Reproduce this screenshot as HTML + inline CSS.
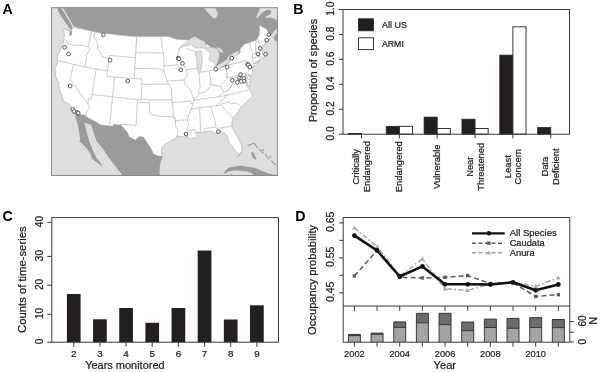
<!DOCTYPE html>
<html><head><meta charset="utf-8"><style>
html,body{margin:0;padding:0;background:#fff;width:600px;height:372px;overflow:hidden}
svg{display:block;font-family:"Liberation Sans",sans-serif;filter:blur(0.3px)}
</style></head><body>
<svg width="600" height="372" viewBox="0 0 600 372">
<clipPath id="mc"><rect x="51.5" y="7.7" width="225.89999999999998" height="167.8"/></clipPath>
<rect x="51.5" y="7.7" width="225.89999999999998" height="167.8" fill="#dedede"/>
<g clip-path="url(#mc)">
<path d="M62.0,0.0 L62.3,7.0 L66.0,13.0 L70.0,20.0 L73.6,26.3 L98.5,32.7 L133.4,36.6 L168.1,36.5 L168.0,34.4 L168.1,36.5 L172.9,38.1 L177.6,39.4 L188.4,39.9 L197.6,41.3 L205.2,43.2 L207.8,44.9 L211.3,47.5 L215.8,49.9 L217.7,62.1 L215.5,66.3 L218.3,69.0 L225.8,65.8 L230.9,59.9 L230.1,57.6 L240.1,53.2 L240.1,49.3 L244.3,44.2 L256.2,40.3 L257.2,38.2 L259.2,35.2 L259.5,31.1 L259.4,25.3 L261.5,26.4 L263.5,27.6 L266.3,29.0 L267.6,31.5 L269.6,33.8 L271.2,34.6 L272.6,33.4 L274.8,30.6 L277.5,27.8 L285.0,27.0 L285.0,45.0 L275.5,40.8 L273.4,38.2 L275.0,35.4 L277.2,32.6 L285.0,31.0 L285.0,21.0 L277.6,21.0 L276.0,19.8 L273.5,18.2 L270.3,17.4 L266.0,18.0 L265.6,16.8 L268.5,15.2 L270.8,13.2 L271.3,11.0 L269.8,9.8 L267.0,9.9 L264.0,11.3 L261.5,13.3 L259.5,15.6 L257.5,18.3 L256.2,17.8 L257.2,15.0 L258.8,11.5 L259.6,9.0 L259.6,-5.0 L62.0,-5.0Z" fill="#9b9b9b"/>
<path d="M204.5,5.0 L214.5,5.0 L216.3,10.5 L217.9,14.5 L216.2,17.4 L214.8,18.6 L212.6,17.4 L209.8,14.5 L206.6,11.2 L204.5,8.6Z" fill="#dedede"/>
<path d="M57.5,0.0 L60.6,0.0 L60.8,7.7 L64.5,13.0 L68.5,20.0 L72.1,26.3 L72.6,29.2 L70.6,29.8 L66.2,23.8 L61.3,16.6 L57.9,10.5Z" fill="#9b9b9b"/>
<path d="M71.8,27.0 L72.4,28.5 L71.6,30.1 L71.8,31.3 L71.4,34.3 L69.2,36.4 L70.5,33.6 L70.7,31.5 L68.4,30.9 L66.5,29.9 L64.3,28.3 L63.9,30.7 L64.3,33.8 L64.4,36.2 L63.8,39.4 L63.1,43.3 L61.5,47.6 L58.8,53.5 L57.3,56.0 L57.5,60.4 L57.3,62.9 L56.3,65.8 L54.7,67.8 L56.0,71.6 L55.4,75.8 L57.2,79.8 L58.8,82.8 L58.5,85.9 L59.8,87.5 L59.7,89.3 L60.7,92.7 L62.2,95.7 L63.0,98.7 L63.2,101.4 L66.3,102.4 L69.7,105.0 L71.1,106.9 L73.8,109.0 L75.2,112.1 L75.4,114.1 L85.8,115.3 L85.3,116.3 L100.7,124.9 L113.2,126.6 L113.4,124.4 L120.8,125.2 L125.0,129.6 L127.5,132.8 L129.1,137.0 L134.4,139.6 L135.2,140.6 L137.1,138.6 L139.0,136.7 L143.0,136.9 L145.0,139.5 L147.0,142.6 L150.1,147.2 L151.5,149.7 L153.3,153.8 L157.1,155.8 L162.5,156.6 L161.7,153.9 L161.4,149.4 L162.5,147.1 L164.7,144.4 L169.2,142.0 L172.8,139.7 L177.0,137.5 L177.1,136.0 L181.0,136.5 L184.8,137.0 L187.0,136.2 L188.5,137.6 L190.2,139.0 L192.5,138.4 L194.9,137.3 L197.4,138.8 L198.6,137.6 L197.0,135.6 L196.3,133.6 L196.9,132.2 L201.1,132.3 L203.0,132.6 L205.2,132.1 L209.6,131.0 L213.8,132.0 L215.4,133.8 L219.3,132.2 L220.9,131.1 L223.9,133.0 L227.3,135.6 L228.2,139.6 L228.8,142.1 L231.0,145.3 L233.0,147.6 L234.9,150.3 L238.1,153.4 L239.1,153.6 L240.7,153.1 L241.4,151.9 L242.1,149.5 L241.7,144.8 L239.7,141.0 L237.5,136.8 L235.0,133.0 L232.3,127.8 L231.7,125.8 L232.1,121.4 L233.2,118.3 L236.7,113.8 L240.1,108.4 L241.4,106.7 L244.2,104.1 L248.3,100.3 L252.6,96.4 L251.2,92.4 L249.7,89.8 L248.7,87.8 L249.7,84.5 L250.8,78.9 L250.2,77.1 L248.6,75.4 L247.8,73.9 L250.0,75.0 L250.8,76.1 L252.6,72.5 L252.9,69.0 L252.5,66.9 L252.8,66.3 L256.2,64.9 L258.5,62.4 L260.1,61.3 L257.3,62.7 L254.3,63.8 L253.1,63.9 L255.8,61.6 L259.8,60.0 L262.1,58.4 L263.0,57.8 L264.2,57.1 L266.4,55.7 L265.6,53.7 L264.3,55.6 L261.6,53.4 L262.7,51.3 L261.7,50.5 L261.7,49.1 L262.8,45.6 L265.1,43.4 L267.0,40.3 L269.8,38.6 L272.1,36.6 L271.2,34.6 L269.6,33.8 L267.6,31.5 L266.3,29.0 L263.5,27.6 L261.5,26.4 L259.4,25.3 L259.5,31.1 L259.2,35.2 L257.2,38.2 L256.2,40.3 L244.3,44.2 L240.1,49.3 L240.1,53.2 L230.1,57.6 L230.9,59.9 L225.8,65.8 L218.3,69.0 L215.5,66.3 L217.7,62.1 L215.8,49.9 L211.3,47.5 L207.8,44.9 L205.2,43.2 L197.6,41.3 L188.4,39.9 L177.6,39.4 L172.9,38.1 L168.1,36.5 L168.0,34.4 L168.1,36.5 L133.4,36.6 L98.5,32.7 L71.8,27.0Z" fill="#fff" stroke="#a8a8a8" stroke-width="0.6"/>
<path d="M75.4,114.1 L85.8,115.3 L85.3,116.3 L100.7,124.9 L113.2,126.6 L113.4,124.4 L120.8,125.2 L125.0,129.6 L127.5,132.8 L129.1,137.0 L134.4,139.6 L135.2,140.6 L137.1,138.6 L139.0,136.7 L143.0,136.9 L145.0,139.5 L147.0,142.6 L150.1,147.2 L151.5,149.7 L153.3,153.8 L157.1,155.8 L162.5,156.6 L160.9,161.3 L159.8,166.2 L159.5,173.5 L161.7,178.4 L163.8,183.3 L169.0,190.5 L179.3,195.1 L180.4,213.8 L121.0,185.0 L121.5,173.9 L114.4,165.0 L109.0,157.9 L103.7,149.9 L96.6,141.0 L93.1,131.3 L91.3,125.1 L84.2,122.4 L85.1,125.1 L86.9,133.1 L89.5,141.9 L93.1,150.8 L96.6,157.9 L101.0,163.2 L103.7,169.4 L101.9,165.9 L96.6,162.3 L92.2,158.8 L90.4,153.5 L85.1,146.4 L80.8,142.6 L79.3,141.5 L80.2,139.5 L79.8,136.6 L78.0,126.0 L75.3,116.2Z" fill="#9b9b9b"/>
<path d="M70.3,31.2 L72.0,31.5 L71.7,34.8 L70.0,35.6 L69.6,33.2Z" fill="#9b9b9b"/>
<path d="M178.4,49.4 L182.3,46.9 L187.1,45.3 L189.5,45.6 L190.2,43.3 L191.5,44.5 L193.1,46.9 L196.2,48.1 L200.0,48.0 L204.0,48.1 L205.9,48.8 L206.2,46.0 L205.2,42.1 L202.0,40.2 L199.2,39.1 L196.5,37.3 L194.3,36.5 L190.7,38.3 L186.5,42.0 L182.3,45.0Z" fill="#dedede" stroke="#a8a8a8" stroke-width="0.5"/>
<path d="M196.6,51.3 L199.0,50.9 L201.2,50.6 L201.8,54.2 L202.3,58.0 L202.2,61.4 L201.6,66.0 L201.0,69.9 L199.4,72.4 L197.8,70.8 L197.2,68.5 L196.9,64.0 L196.8,60.2 L196.5,56.0 L195.2,55.6 L194.8,53.8 L196.0,52.6Z" fill="#dedede" stroke="#a8a8a8" stroke-width="0.5"/>
<path d="M206.0,48.0 L210.0,47.6 L214.0,47.6 L217.0,49.0 L219.0,52.0 L219.3,56.0 L218.6,60.0 L216.7,64.0 L215.3,66.4 L214.5,63.8 L213.0,61.6 L210.5,61.2 L209.0,59.6 L209.3,57.0 L210.3,54.0 L208.3,51.0 L206.0,49.6Z" fill="#dedede" stroke="#a8a8a8" stroke-width="0.5"/>
<path d="M216.8,47.3 L219.5,47.8 L222.0,49.6 L223.4,52.2 L221.8,53.0 L219.3,51.2 L217.5,49.5Z" fill="#dedede" stroke="#a8a8a8" stroke-width="0.5"/>
<path d="M213.8,69.2 L215.5,66.9 L218.7,64.6 L222.0,62.4 L225.6,60.2 L228.8,58.6 L230.8,60.0 L227.5,63.3 L224.0,65.6 L220.0,68.2 L217.0,70.0 L214.8,70.8Z" fill="#dedede" stroke="#a8a8a8" stroke-width="0.5"/>
<path d="M226.6,58.2 L229.0,56.0 L232.0,54.0 L235.0,52.2 L237.9,50.9 L239.5,52.3 L236.8,55.0 L233.8,57.0 L230.7,59.0 L228.3,60.0Z" fill="#dedede" stroke="#a8a8a8" stroke-width="0.5"/>
<path d="M223.1,173.4 L225.5,170.8 L228.0,168.0 L234.0,166.4 L241.0,165.8 L247.5,166.7 L254.0,167.5 L260.5,170.2 L267.0,172.9 L273.5,174.5 L280.0,175.5 L280.0,180.0 L253.5,180.0 L253.5,175.2 L251.8,172.9 L246.4,171.3 L240.0,170.7 L234.5,170.2 L229.1,171.3 L225.8,173.2Z" fill="#9b9b9b"/>
<path d="M230.0,175.6 L231.2,173.6 L232.6,175.6Z" fill="#9b9b9b"/>
<path d="M251.3,152.5 L253.2,151.8 L254.5,155.0 L256.5,158.6 L255.8,160.0 L253.2,158.0 L251.5,155.5Z" fill="#9b9b9b"/>
<path d="M241.3,152.7 L240.6,154.2 L238.9,155.5 L236.7,156.5" fill="none" stroke="#a8a8a8" stroke-width="0.8"/>
<path d="M247.9,145.7 L251,144.2 L254.1,143.1 L255.5,144.8 L256.9,147.4 M259.2,149.1 L261,150.8 L263.1,153 M265.4,154.2 L267,156.5 L268.7,158.7 M271.6,160.9 L273.5,162.8 L275.5,164.9 M262.5,149.5 L263.5,150.5 M269.8,156.2 L270.8,157.2" fill="none" stroke="#9b9b9b" stroke-width="1.1" stroke-linecap="round"/>
<path d="M248.2,87.4 L246.9,86.4 L246.3,82.7 L244.7,78.1 L245.7,74.5 L246.0,75.0 L246.1,79.4 L247.3,82.4 L248.2,86.6Z" fill="#eee" stroke="#a8a8a8" stroke-width="0.6"/>
<path d="M63.9,39.5 L66.6,40.6 L68.8,44.3 L73.1,45.1 L80.3,45.3 L81.5,45.2 L88.9,46.8 L88.9,44.5 L91.4,31.4 M57.5,60.4 L84.6,67.0 L107.5,70.9 M88.9,46.8 L90.0,49.1 L88.4,51.9 L86.2,55.2 L86.4,57.9 L84.6,67.0 M94.8,32.1 L93.9,37.3 L96.0,40.7 L97.8,45.0 L97.4,49.9 L99.5,51.0 L102.3,57.0 L109.1,58.2 L109.5,55.4 M109.1,58.2 L106.8,76.0 L114.6,77.0 M109.5,55.4 L135.4,57.7 M136.7,36.7 L134.2,78.7 L142.0,79.1 L141.9,84.3 M114.6,77.0 L134.2,78.7 M114.6,77.0 L112.5,97.6 L109.5,126.2 M141.9,84.3 L141.3,99.9 M92.0,94.5 L137.4,99.7 L137.3,102.3 L136.1,125.4 L120.5,124.1 L120.8,125.2 M134.8,68.2 L156.0,68.7 L161.0,69.6 L163.9,71.1 M141.9,84.3 L168.7,84.2 L171.7,88.8 L172.0,99.8 M137.4,99.7 L172.0,99.8 M137.3,102.3 L149.7,102.8 L149.6,112.8 L153.0,115.2 L160.3,116.3 L164.6,117.0 L168.8,116.4 L173.3,117.3 L175.2,117.7 L175.6,125.9 L178.0,130.8 L177.0,137.5 M173.3,117.3 L173.1,108.2 L172.1,102.5 L172.0,99.8 M73.4,64.5 L70.0,79.5 L88.0,104.1 M96.0,69.1 L92.0,94.5 L91.3,99.0 L88.4,98.5 L88.0,104.1 L89.5,107.9 L86.5,111.9 L85.8,115.3 M135.7,52.8 L163.3,52.9 M160.9,36.8 L161.6,42.6 L162.4,49.5 L163.3,52.9 L163.7,56.3 L163.9,65.8 L163.9,71.1 L165.8,76.4 L166.9,81.1 L168.7,84.2 M163.9,65.8 L183.8,64.5 M179.5,47.8 L179.0,51.6 L177.5,54.9 L177.6,58.7 L180.9,60.5 L183.8,64.5 L186.3,69.6 L187.3,74.9 L184.1,80.0 L184.8,84.7 L189.9,89.0 L193.1,97.2 L194.7,98.2 L192.8,103.6 L191.5,109.0 L188.5,114.5 L187.8,119.8 L188.4,124.9 L186.6,130.2 M166.9,81.1 L184.1,80.0 M172.1,102.5 L190.7,101.1 L190.9,103.7 L192.8,103.6 M175.3,120.6 L187.8,119.8 M186.6,130.2 L194.9,129.5 L195.8,133.6 M199.6,108.1 L200.6,129.0 L201.1,132.0 M190.7,109.0 L216.1,105.7 L221.1,104.8 M210.6,106.6 L214.9,120.2 L215.8,127.0 M204.3,128.5 L215.8,127.0 L216.5,128.4 L229.4,126.7 L231.7,125.8 M204.3,128.5 L205.2,132.1 M221.1,104.8 L223.4,108.1 L227.5,112.2 L233.2,118.3 M221.0,103.8 L229.8,102.0 L231.0,103.9 L235.6,102.9 L241.4,106.7 M225.9,95.3 L224.8,98.2 L219.0,102.5 L216.1,105.7 M249.7,89.8 L225.9,95.5 L217.5,96.9 L193.4,100.3 M217.5,96.9 L223.8,91.9 L220.5,86.6 M226.9,73.0 L226.3,78.8 L222.5,83.4 L220.5,86.6 L216.2,85.7 L211.1,84.5 L207.7,89.9 L205.0,91.9 L199.4,93.2 L197.3,97.2 L194.7,98.2 M198.8,72.4 L200.2,86.7 L198.7,90.6 L198.7,93.3 M198.9,72.4 L214.6,69.8 M209.3,70.7 L211.1,84.5 M186.3,69.6 L197.3,68.3 M196.7,54.3 L194.5,50.9 L190.7,50.3 L185.7,48.0 M225.7,65.8 L227.7,77.8 M227.7,77.8 L246.4,73.1 M231.9,76.9 L232.3,79.6 L236.7,76.9 L239.3,77.4 L242.3,78.8 L246.3,82.7 M239.3,77.4 L232.9,83.3 L228.3,90.4 L223.8,91.9 M228.4,63.7 L228.6,65.1 L245.5,60.6 L248.8,63.3 L247.7,67.8 L248.8,70.8 L247.5,72.3 M248.8,63.3 L252.3,64.2 M249.4,42.6 L252.6,54.2 L252.5,58.2 L253.1,63.4 M256.2,40.3 L255.5,46.2 L255.7,53.3 M252.6,54.3 L260.0,51.9 L261.7,50.5 M257.2,38.2 L261.7,49.1 M252.6,58.3 L259.0,56.2 L259.8,60.0 M259.0,56.2 L260.7,55.8 L262.4,58.0 M246.4,73.1 L247.9,79.7 L250.8,78.9 M247.9,82.2 L250.8,81.4" fill="none" stroke="#a8a8a8" stroke-width="0.6"/>
<circle cx="103.4" cy="34.7" r="1.85" fill="#fff" stroke="#5a5a5a" stroke-width="1.0"/>
<circle cx="64.6" cy="47.3" r="1.85" fill="#fff" stroke="#5a5a5a" stroke-width="1.0"/>
<circle cx="68.6" cy="54.0" r="1.85" fill="#fff" stroke="#5a5a5a" stroke-width="1.0"/>
<circle cx="110.1" cy="60.2" r="1.85" fill="#fff" stroke="#5a5a5a" stroke-width="1.0"/>
<circle cx="127.7" cy="81.0" r="1.85" fill="#fff" stroke="#5a5a5a" stroke-width="1.0"/>
<circle cx="70.2" cy="86.0" r="1.85" fill="#fff" stroke="#5a5a5a" stroke-width="1.0"/>
<circle cx="72.8" cy="109.4" r="1.85" fill="#fff" stroke="#5a5a5a" stroke-width="1.0"/>
<circle cx="74.2" cy="111.4" r="1.85" fill="#fff" stroke="#5a5a5a" stroke-width="1.0"/>
<circle cx="77.2" cy="112.5" r="1.85" fill="#fff" stroke="#5a5a5a" stroke-width="1.0"/>
<circle cx="78.2" cy="113.1" r="1.85" fill="#fff" stroke="#5a5a5a" stroke-width="1.0"/>
<circle cx="178.2" cy="58.2" r="1.85" fill="#fff" stroke="#5a5a5a" stroke-width="1.0"/>
<circle cx="178.9" cy="58.8" r="1.85" fill="#fff" stroke="#5a5a5a" stroke-width="1.0"/>
<circle cx="182.5" cy="63.4" r="1.85" fill="#fff" stroke="#5a5a5a" stroke-width="1.0"/>
<circle cx="180.8" cy="69.8" r="1.85" fill="#fff" stroke="#5a5a5a" stroke-width="1.0"/>
<circle cx="186.0" cy="134.0" r="1.85" fill="#fff" stroke="#5a5a5a" stroke-width="1.0"/>
<circle cx="218.3" cy="131.6" r="1.85" fill="#fff" stroke="#5a5a5a" stroke-width="1.0"/>
<circle cx="215.7" cy="69.2" r="1.85" fill="#fff" stroke="#5a5a5a" stroke-width="1.0"/>
<circle cx="231.7" cy="58.1" r="1.85" fill="#fff" stroke="#5a5a5a" stroke-width="1.0"/>
<circle cx="227.2" cy="67.2" r="1.85" fill="#fff" stroke="#5a5a5a" stroke-width="1.0"/>
<circle cx="247.6" cy="64.3" r="1.85" fill="#fff" stroke="#5a5a5a" stroke-width="1.0"/>
<circle cx="248.3" cy="64.9" r="1.85" fill="#fff" stroke="#5a5a5a" stroke-width="1.0"/>
<circle cx="249.9" cy="67.0" r="1.85" fill="#fff" stroke="#5a5a5a" stroke-width="1.0"/>
<circle cx="240.6" cy="74.5" r="1.85" fill="#fff" stroke="#5a5a5a" stroke-width="1.0"/>
<circle cx="232.3" cy="80.3" r="1.85" fill="#fff" stroke="#5a5a5a" stroke-width="1.0"/>
<circle cx="237.4" cy="82.3" r="1.85" fill="#fff" stroke="#5a5a5a" stroke-width="1.0"/>
<circle cx="239.5" cy="78.2" r="1.85" fill="#fff" stroke="#5a5a5a" stroke-width="1.0"/>
<circle cx="241.7" cy="78.8" r="1.85" fill="#fff" stroke="#5a5a5a" stroke-width="1.0"/>
<circle cx="243.8" cy="78.5" r="1.85" fill="#fff" stroke="#5a5a5a" stroke-width="1.0"/>
<circle cx="244.1" cy="81.2" r="1.85" fill="#fff" stroke="#5a5a5a" stroke-width="1.0"/>
<circle cx="241.1" cy="81.4" r="1.85" fill="#fff" stroke="#5a5a5a" stroke-width="1.0"/>
<circle cx="268.8" cy="34.7" r="1.85" fill="#fff" stroke="#5a5a5a" stroke-width="1.0"/>
<circle cx="266.7" cy="40.1" r="1.85" fill="#fff" stroke="#5a5a5a" stroke-width="1.0"/>
<circle cx="260.2" cy="48.4" r="1.85" fill="#fff" stroke="#5a5a5a" stroke-width="1.0"/>
<circle cx="258.1" cy="54.0" r="1.85" fill="#fff" stroke="#5a5a5a" stroke-width="1.0"/>
<circle cx="265.6" cy="54.2" r="1.85" fill="#fff" stroke="#5a5a5a" stroke-width="1.0"/>
</g>
<rect x="51.5" y="7.7" width="225.89999999999998" height="167.8" fill="none" stroke="#8a8a8a" stroke-width="1"/>
<text x="2.6" y="14.3" font-size="14.2" fill="#000" font-weight="bold">A</text>
<text x="293.2" y="14.3" font-size="14.2" fill="#000" font-weight="bold">B</text>
<text x="2.6" y="220.6" font-size="14.2" fill="#000" font-weight="bold">C</text>
<text x="295.3" y="220.8" font-size="14.2" fill="#000" font-weight="bold">D</text>
<rect x="348.40" y="133.45" width="13.1" height="0.75" fill="#231f20" stroke="#231f20" stroke-width="0.8"/>
<rect x="386.25" y="126.34" width="13.1" height="7.86" fill="#231f20" stroke="#231f20" stroke-width="0.8"/>
<rect x="399.35" y="126.34" width="13.1" height="7.86" fill="#fff" stroke="#231f20" stroke-width="0.9"/>
<rect x="424.10" y="117.12" width="13.1" height="17.08" fill="#231f20" stroke="#231f20" stroke-width="0.8"/>
<rect x="437.20" y="128.46" width="13.1" height="5.74" fill="#fff" stroke="#231f20" stroke-width="0.9"/>
<rect x="461.95" y="119.24" width="13.1" height="14.96" fill="#231f20" stroke="#231f20" stroke-width="0.8"/>
<rect x="475.05" y="128.46" width="13.1" height="5.74" fill="#fff" stroke="#231f20" stroke-width="0.9"/>
<rect x="499.80" y="55.14" width="13.1" height="79.06" fill="#231f20" stroke="#231f20" stroke-width="0.8"/>
<rect x="512.90" y="26.83" width="13.1" height="107.37" fill="#fff" stroke="#231f20" stroke-width="0.9"/>
<rect x="537.65" y="127.59" width="13.1" height="6.61" fill="#231f20" stroke="#231f20" stroke-width="0.8"/>
<rect x="343.0" y="9.5" width="226.5" height="124.69999999999999" fill="none" stroke="#3a3a3a" stroke-width="1"/>
<path d="M343.0,134.20H339.0M343.0,109.26H339.0M343.0,84.32H339.0M343.0,59.38H339.0M343.0,34.44H339.0M343.0,9.50H339.0M361.50,134.2V138.39999999999998M399.35,134.2V138.39999999999998M437.20,134.2V138.39999999999998M475.05,134.2V138.39999999999998M512.90,134.2V138.39999999999998M550.75,134.2V138.39999999999998" stroke="#3a3a3a" stroke-width="1" fill="none"/>
<text x="333.6" y="133.4" font-size="10.2" fill="#1a1a1a" stroke="#1a1a1a" stroke-width="0.22" text-anchor="middle" transform="rotate(-90 333.6 133.4)">0.0</text>
<text x="333.6" y="108.46" font-size="10.2" fill="#1a1a1a" stroke="#1a1a1a" stroke-width="0.22" text-anchor="middle" transform="rotate(-90 333.6 108.46)">0.2</text>
<text x="333.6" y="83.52" font-size="10.2" fill="#1a1a1a" stroke="#1a1a1a" stroke-width="0.22" text-anchor="middle" transform="rotate(-90 333.6 83.52)">0.4</text>
<text x="333.6" y="58.58" font-size="10.2" fill="#1a1a1a" stroke="#1a1a1a" stroke-width="0.22" text-anchor="middle" transform="rotate(-90 333.6 58.58)">0.6</text>
<text x="333.6" y="33.64" font-size="10.2" fill="#1a1a1a" stroke="#1a1a1a" stroke-width="0.22" text-anchor="middle" transform="rotate(-90 333.6 33.64)">0.8</text>
<text x="333.6" y="8.7" font-size="10.2" fill="#1a1a1a" stroke="#1a1a1a" stroke-width="0.22" text-anchor="middle" transform="rotate(-90 333.6 8.7)">1.0</text>
<text x="316.7" y="70.5" font-size="10.8" fill="#1a1a1a" stroke="#1a1a1a" stroke-width="0.22" text-anchor="middle" transform="rotate(-90 316.7 70.5)" textLength="103.5" lengthAdjust="spacingAndGlyphs">Proportion of species</text>
<rect x="358.5" y="18.8" width="15" height="12" fill="#231f20" stroke="#231f20" stroke-width="0.8"/>
<rect x="358.5" y="37.8" width="15" height="11.8" fill="#fff" stroke="#231f20" stroke-width="0.9"/>
<text x="382.0" y="27.8" font-size="9" fill="#1a1a1a" stroke="#1a1a1a" stroke-width="0.22" textLength="25" lengthAdjust="spacingAndGlyphs">All US</text>
<text x="382.0" y="46.7" font-size="9" fill="#1a1a1a" stroke="#1a1a1a" stroke-width="0.22" textLength="21.8" lengthAdjust="spacingAndGlyphs">ARMI</text>
<text x="359.2" y="166.7" font-size="9.4" fill="#1a1a1a" stroke="#1a1a1a" stroke-width="0.22" text-anchor="middle" transform="rotate(-90 359.2 166.7)">Critically</text>
<text x="370.0" y="166.7" font-size="9.4" fill="#1a1a1a" stroke="#1a1a1a" stroke-width="0.22" text-anchor="middle" transform="rotate(-90 370.0 166.7)">Endangered</text>
<text x="402.35" y="166.7" font-size="9.4" fill="#1a1a1a" stroke="#1a1a1a" stroke-width="0.22" text-anchor="middle" transform="rotate(-90 402.35 166.7)">Endangered</text>
<text x="440.2" y="166.7" font-size="9.4" fill="#1a1a1a" stroke="#1a1a1a" stroke-width="0.22" text-anchor="middle" transform="rotate(-90 440.2 166.7)">Vulnerable</text>
<text x="472.75" y="166.7" font-size="9.4" fill="#1a1a1a" stroke="#1a1a1a" stroke-width="0.22" text-anchor="middle" transform="rotate(-90 472.75 166.7)">Near</text>
<text x="483.55" y="166.7" font-size="9.4" fill="#1a1a1a" stroke="#1a1a1a" stroke-width="0.22" text-anchor="middle" transform="rotate(-90 483.55 166.7)">Threatened</text>
<text x="510.6" y="166.7" font-size="9.4" fill="#1a1a1a" stroke="#1a1a1a" stroke-width="0.22" text-anchor="middle" transform="rotate(-90 510.6 166.7)">Least</text>
<text x="521.4" y="166.7" font-size="9.4" fill="#1a1a1a" stroke="#1a1a1a" stroke-width="0.22" text-anchor="middle" transform="rotate(-90 521.4 166.7)">Concern</text>
<text x="548.45" y="166.7" font-size="9.4" fill="#1a1a1a" stroke="#1a1a1a" stroke-width="0.22" text-anchor="middle" transform="rotate(-90 548.45 166.7)">Data</text>
<text x="559.25" y="166.7" font-size="9.4" fill="#1a1a1a" stroke="#1a1a1a" stroke-width="0.22" text-anchor="middle" transform="rotate(-90 559.25 166.7)">Deficient</text>
<rect x="66.90" y="294.0" width="13.7" height="48.20" fill="#231f20"/>
<rect x="93.06" y="319.3" width="13.7" height="22.90" fill="#231f20"/>
<rect x="119.22" y="308.0" width="13.7" height="34.20" fill="#231f20"/>
<rect x="145.38" y="322.8" width="13.7" height="19.40" fill="#231f20"/>
<rect x="171.54" y="308.0" width="13.7" height="34.20" fill="#231f20"/>
<rect x="197.70" y="250.5" width="13.7" height="91.70" fill="#231f20"/>
<rect x="223.86" y="319.5" width="13.7" height="22.70" fill="#231f20"/>
<rect x="250.02" y="305.3" width="13.7" height="36.90" fill="#231f20"/>
<rect x="51.8" y="217.6" width="226.7" height="124.6" fill="none" stroke="#3a3a3a" stroke-width="1"/>
<path d="M51.8,342.2H47.3M51.8,314.3H47.3M51.8,285.2H47.3M51.8,256.4H47.3M51.8,222.4H47.3M73.75,342.2V346.7M99.91,342.2V346.7M126.07,342.2V346.7M152.23,342.2V346.7M178.39,342.2V346.7M204.55,342.2V346.7M230.71,342.2V346.7M256.87,342.2V346.7" stroke="#3a3a3a" stroke-width="1" fill="none"/>
<text x="42.8" y="341.4" font-size="10" fill="#1a1a1a" stroke="#1a1a1a" stroke-width="0.22" text-anchor="middle" transform="rotate(-90 42.8 341.4)">0</text>
<text x="42.8" y="313.5" font-size="10" fill="#1a1a1a" stroke="#1a1a1a" stroke-width="0.22" text-anchor="middle" transform="rotate(-90 42.8 313.5)">10</text>
<text x="42.8" y="284.4" font-size="10" fill="#1a1a1a" stroke="#1a1a1a" stroke-width="0.22" text-anchor="middle" transform="rotate(-90 42.8 284.4)">20</text>
<text x="42.8" y="255.6" font-size="10" fill="#1a1a1a" stroke="#1a1a1a" stroke-width="0.22" text-anchor="middle" transform="rotate(-90 42.8 255.6)">30</text>
<text x="42.8" y="221.6" font-size="10" fill="#1a1a1a" stroke="#1a1a1a" stroke-width="0.22" text-anchor="middle" transform="rotate(-90 42.8 221.6)">40</text>
<text x="73.75" y="356.9" font-size="9.8" fill="#1a1a1a" stroke="#1a1a1a" stroke-width="0.22" text-anchor="middle">2</text>
<text x="99.91" y="356.9" font-size="9.8" fill="#1a1a1a" stroke="#1a1a1a" stroke-width="0.22" text-anchor="middle">3</text>
<text x="126.07" y="356.9" font-size="9.8" fill="#1a1a1a" stroke="#1a1a1a" stroke-width="0.22" text-anchor="middle">4</text>
<text x="152.23" y="356.9" font-size="9.8" fill="#1a1a1a" stroke="#1a1a1a" stroke-width="0.22" text-anchor="middle">5</text>
<text x="178.39" y="356.9" font-size="9.8" fill="#1a1a1a" stroke="#1a1a1a" stroke-width="0.22" text-anchor="middle">6</text>
<text x="204.55" y="356.9" font-size="9.8" fill="#1a1a1a" stroke="#1a1a1a" stroke-width="0.22" text-anchor="middle">7</text>
<text x="230.71" y="356.9" font-size="9.8" fill="#1a1a1a" stroke="#1a1a1a" stroke-width="0.22" text-anchor="middle">8</text>
<text x="256.87" y="356.9" font-size="9.8" fill="#1a1a1a" stroke="#1a1a1a" stroke-width="0.22" text-anchor="middle">9</text>
<text x="26.3" y="279.7" font-size="10.8" fill="#1a1a1a" stroke="#1a1a1a" stroke-width="0.22" text-anchor="middle" transform="rotate(-90 26.3 279.7)" textLength="106.5" lengthAdjust="spacingAndGlyphs">Counts of time-series</text>
<text x="124.9" y="369.3" font-size="10.6" fill="#1a1a1a" stroke="#1a1a1a" stroke-width="0.22" text-anchor="middle" textLength="79.4" lengthAdjust="spacingAndGlyphs">Years monitored</text>
<rect x="348.40" y="335.6" width="12.0" height="6.60" fill="#a4a4a4"/>
<rect x="348.40" y="334.4" width="12.0" height="1.20" fill="#6c6c6c"/>
<path d="M348.40,342.2V334.4H360.40V342.2M348.40,335.6H360.40" fill="none" stroke="#2a2a2a" stroke-width="0.9"/>
<rect x="371.06" y="334.3" width="12.0" height="7.90" fill="#a4a4a4"/>
<rect x="371.06" y="333.1" width="12.0" height="1.20" fill="#6c6c6c"/>
<path d="M371.06,342.2V333.1H383.06V342.2M371.06,334.3H383.06" fill="none" stroke="#2a2a2a" stroke-width="0.9"/>
<rect x="393.72" y="327.4" width="12.0" height="14.80" fill="#a4a4a4"/>
<rect x="393.72" y="321.9" width="12.0" height="5.50" fill="#6c6c6c"/>
<path d="M393.72,342.2V321.9H405.72V342.2M393.72,327.4H405.72" fill="none" stroke="#2a2a2a" stroke-width="0.9"/>
<rect x="416.38" y="322.8" width="12.0" height="19.40" fill="#a4a4a4"/>
<rect x="416.38" y="313.3" width="12.0" height="9.50" fill="#6c6c6c"/>
<path d="M416.38,342.2V313.3H428.38V342.2M416.38,322.8H428.38" fill="none" stroke="#2a2a2a" stroke-width="0.9"/>
<rect x="439.04" y="324.6" width="12.0" height="17.60" fill="#a4a4a4"/>
<rect x="439.04" y="313.3" width="12.0" height="11.30" fill="#6c6c6c"/>
<path d="M439.04,342.2V313.3H451.04V342.2M439.04,324.6H451.04" fill="none" stroke="#2a2a2a" stroke-width="0.9"/>
<rect x="461.70" y="330.7" width="12.0" height="11.50" fill="#a4a4a4"/>
<rect x="461.70" y="322.0" width="12.0" height="8.70" fill="#6c6c6c"/>
<path d="M461.70,342.2V322.0H473.70V342.2M461.70,330.7H473.70" fill="none" stroke="#2a2a2a" stroke-width="0.9"/>
<rect x="484.36" y="327.5" width="12.0" height="14.70" fill="#a4a4a4"/>
<rect x="484.36" y="319.1" width="12.0" height="8.40" fill="#6c6c6c"/>
<path d="M484.36,342.2V319.1H496.36V342.2M484.36,327.5H496.36" fill="none" stroke="#2a2a2a" stroke-width="0.9"/>
<rect x="507.02" y="328.3" width="12.0" height="13.90" fill="#a4a4a4"/>
<rect x="507.02" y="318.4" width="12.0" height="9.90" fill="#6c6c6c"/>
<path d="M507.02,342.2V318.4H519.02V342.2M507.02,328.3H519.02" fill="none" stroke="#2a2a2a" stroke-width="0.9"/>
<rect x="529.68" y="327.5" width="12.0" height="14.70" fill="#a4a4a4"/>
<rect x="529.68" y="317.6" width="12.0" height="9.90" fill="#6c6c6c"/>
<path d="M529.68,342.2V317.6H541.68V342.2M529.68,327.5H541.68" fill="none" stroke="#2a2a2a" stroke-width="0.9"/>
<rect x="552.34" y="327.6" width="12.0" height="14.60" fill="#a4a4a4"/>
<rect x="552.34" y="319.5" width="12.0" height="8.10" fill="#6c6c6c"/>
<path d="M552.34,342.2V319.5H564.34V342.2M552.34,327.6H564.34" fill="none" stroke="#2a2a2a" stroke-width="0.9"/>
<rect x="343.2" y="217.5" width="226.59999999999997" height="124.69999999999999" fill="none" stroke="#3a3a3a" stroke-width="1"/>
<path d="M343.2,306.0H569.8" stroke="#3a3a3a" stroke-width="1"/>
<path d="M343.2,292.82H339.2M343.2,275.34H339.2M343.2,257.86H339.2M343.2,240.38H339.2M343.2,222.90H339.2M354.40,306.0V310.8M354.40,342.2V346.7M377.06,306.0V310.8M377.06,342.2V346.7M399.72,306.0V310.8M399.72,342.2V346.7M422.38,306.0V310.8M422.38,342.2V346.7M445.04,306.0V310.8M445.04,342.2V346.7M467.70,306.0V310.8M467.70,342.2V346.7M490.36,306.0V310.8M490.36,342.2V346.7M513.02,306.0V310.8M513.02,342.2V346.7M535.68,306.0V310.8M535.68,342.2V346.7M558.34,306.0V310.8M558.34,342.2V346.7M569.8,342.0H573.8M569.8,332.2H573.8M569.8,321.6H573.8" stroke="#3a3a3a" stroke-width="1" fill="none"/>
<text x="333.8" y="221.9" font-size="10.5" fill="#1a1a1a" stroke="#1a1a1a" stroke-width="0.22" text-anchor="middle" transform="rotate(-90 333.8 221.9)">0.65</text>
<text x="333.8" y="256.86" font-size="10.5" fill="#1a1a1a" stroke="#1a1a1a" stroke-width="0.22" text-anchor="middle" transform="rotate(-90 333.8 256.86)">0.55</text>
<text x="333.8" y="291.82" font-size="10.5" fill="#1a1a1a" stroke="#1a1a1a" stroke-width="0.22" text-anchor="middle" transform="rotate(-90 333.8 291.82)">0.45</text>
<text x="316.0" y="279.9" font-size="10.8" fill="#1a1a1a" stroke="#1a1a1a" stroke-width="0.22" text-anchor="middle" transform="rotate(-90 316.0 279.9)" textLength="110.2" lengthAdjust="spacingAndGlyphs">Occupancy probability</text>
<text x="354.4" y="357.0" font-size="9.7" fill="#1a1a1a" stroke="#1a1a1a" stroke-width="0.22" text-anchor="middle" textLength="20.6" lengthAdjust="spacingAndGlyphs">2002</text>
<text x="399.72" y="357.0" font-size="9.7" fill="#1a1a1a" stroke="#1a1a1a" stroke-width="0.22" text-anchor="middle" textLength="20.6" lengthAdjust="spacingAndGlyphs">2004</text>
<text x="445.04" y="357.0" font-size="9.7" fill="#1a1a1a" stroke="#1a1a1a" stroke-width="0.22" text-anchor="middle" textLength="20.6" lengthAdjust="spacingAndGlyphs">2006</text>
<text x="490.36" y="357.0" font-size="9.7" fill="#1a1a1a" stroke="#1a1a1a" stroke-width="0.22" text-anchor="middle" textLength="20.6" lengthAdjust="spacingAndGlyphs">2008</text>
<text x="535.68" y="357.0" font-size="9.7" fill="#1a1a1a" stroke="#1a1a1a" stroke-width="0.22" text-anchor="middle" textLength="20.6" lengthAdjust="spacingAndGlyphs">2010</text>
<text x="444.8" y="369.2" font-size="10.6" fill="#1a1a1a" stroke="#1a1a1a" stroke-width="0.22" text-anchor="middle" textLength="22.4" lengthAdjust="spacingAndGlyphs">Year</text>
<text x="585.7" y="341.6" font-size="10" fill="#1a1a1a" stroke="#1a1a1a" stroke-width="0.22" text-anchor="middle" transform="rotate(-90 585.7 341.6)">0</text>
<text x="585.7" y="320.9" font-size="10" fill="#1a1a1a" stroke="#1a1a1a" stroke-width="0.22" text-anchor="middle" transform="rotate(-90 585.7 320.9)">60</text>
<text x="597.2" y="320.7" font-size="11" fill="#1a1a1a" stroke="#1a1a1a" stroke-width="0.22" text-anchor="middle" transform="rotate(-90 597.2 320.7)">N</text>
<polyline points="354.40,227.9 377.06,246.6 399.72,276.0 422.38,258.9 445.04,288.8 467.70,290.3 490.36,284.0 513.02,282.0 535.68,286.4 558.34,277.8" fill="none" stroke="#a4a4a4" stroke-width="1.5" stroke-dasharray="5 2.2 1.8 2.2"/>
<path d="M352.10,229.5L354.40,225.5L356.70,229.5Z" fill="#a9a9a9"/>
<path d="M374.76,248.2L377.06,244.2L379.36,248.2Z" fill="#a9a9a9"/>
<path d="M397.42,277.6L399.72,273.6L402.02,277.6Z" fill="#a9a9a9"/>
<path d="M420.08,260.5L422.38,256.5L424.68,260.5Z" fill="#a9a9a9"/>
<path d="M442.74,290.40000000000003L445.04,286.40000000000003L447.34,290.40000000000003Z" fill="#a9a9a9"/>
<path d="M465.40,291.90000000000003L467.70,287.90000000000003L470.00,291.90000000000003Z" fill="#a9a9a9"/>
<path d="M488.06,285.6L490.36,281.6L492.66,285.6Z" fill="#a9a9a9"/>
<path d="M510.72,283.6L513.02,279.6L515.32,283.6Z" fill="#a9a9a9"/>
<path d="M533.38,288.0L535.68,284.0L537.98,288.0Z" fill="#a9a9a9"/>
<path d="M556.04,279.40000000000003L558.34,275.40000000000003L560.64,279.40000000000003Z" fill="#a9a9a9"/>
<polyline points="354.40,275.9 377.06,250.5 399.72,277.3 422.38,277.9 445.04,277.3 467.70,275.6 490.36,283.5 513.02,283.0 535.68,296.4 558.34,294.7" fill="none" stroke="#5c5c5c" stroke-width="1.5" stroke-dasharray="5 3"/>
<rect x="352.70" y="274.2" width="3.4" height="3.4" fill="#5c5c5c"/>
<rect x="375.36" y="248.8" width="3.4" height="3.4" fill="#5c5c5c"/>
<rect x="398.02" y="275.6" width="3.4" height="3.4" fill="#5c5c5c"/>
<rect x="420.68" y="276.2" width="3.4" height="3.4" fill="#5c5c5c"/>
<rect x="443.34" y="275.6" width="3.4" height="3.4" fill="#5c5c5c"/>
<rect x="466.00" y="273.90000000000003" width="3.4" height="3.4" fill="#5c5c5c"/>
<rect x="488.66" y="281.8" width="3.4" height="3.4" fill="#5c5c5c"/>
<rect x="511.32" y="281.3" width="3.4" height="3.4" fill="#5c5c5c"/>
<rect x="533.98" y="294.7" width="3.4" height="3.4" fill="#5c5c5c"/>
<rect x="556.64" y="293.0" width="3.4" height="3.4" fill="#5c5c5c"/>
<polyline points="354.40,235.6 377.06,250.5 399.72,276.5 422.38,266.4 445.04,284.3 467.70,284.3 490.36,284.5 513.02,282.3 535.68,290.3 558.34,284.5" fill="none" stroke="#111" stroke-width="2.6" stroke-linejoin="round"/>
<circle cx="354.40" cy="235.6" r="2.4" fill="#111"/>
<circle cx="377.06" cy="250.5" r="2.4" fill="#111"/>
<circle cx="399.72" cy="276.5" r="2.4" fill="#111"/>
<circle cx="422.38" cy="266.4" r="2.4" fill="#111"/>
<circle cx="445.04" cy="284.3" r="2.4" fill="#111"/>
<circle cx="467.70" cy="284.3" r="2.4" fill="#111"/>
<circle cx="490.36" cy="284.5" r="2.4" fill="#111"/>
<circle cx="513.02" cy="282.3" r="2.4" fill="#111"/>
<circle cx="535.68" cy="290.3" r="2.4" fill="#111"/>
<circle cx="558.34" cy="284.5" r="2.4" fill="#111"/>
<path d="M472,233.3H504.7" stroke="#111" stroke-width="2.2"/>
<circle cx="488.8" cy="233.3" r="2.3" fill="#111"/>
<path d="M472,243.2H504.7" stroke="#5c5c5c" stroke-width="1.6" stroke-dasharray="4 2.5"/>
<rect x="487.1" y="241.5" width="3.4" height="3.4" fill="#5c5c5c"/>
<path d="M472,252.8H504.7" stroke="#a4a4a4" stroke-width="1.5" stroke-dasharray="4 2.5"/>
<path d="M486.5,254.4L488.8,250.4L491.1,254.4Z" fill="#a9a9a9"/>
<text x="509.7" y="236.3" font-size="9.5" fill="#1a1a1a" stroke="#1a1a1a" stroke-width="0.22" textLength="47" lengthAdjust="spacingAndGlyphs">All Species</text>
<text x="509.7" y="246.3" font-size="9.5" fill="#1a1a1a" stroke="#1a1a1a" stroke-width="0.22" textLength="35" lengthAdjust="spacingAndGlyphs">Caudata</text>
<text x="509.7" y="256.3" font-size="9.5" fill="#1a1a1a" stroke="#1a1a1a" stroke-width="0.22" textLength="25" lengthAdjust="spacingAndGlyphs">Anura</text>
</svg></body></html>
